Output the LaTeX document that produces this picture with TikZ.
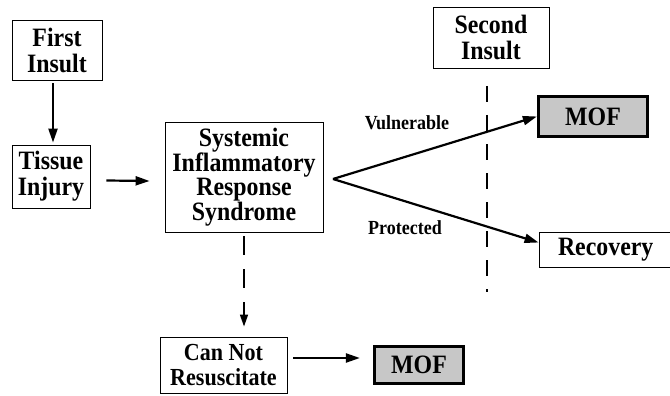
\documentclass[tikz,border=0pt]{standalone}
\usepackage{fontspec}
\setmainfont{Liberation Serif}
\newfontfamily\narrowserif[FakeStretch=0.9]{Liberation Serif}
\usetikzlibrary{arrows.meta}
\begin{document}
\begin{tikzpicture}[x=1pt,y=-1pt,
  box/.style={draw=black,line width=0.9pt,inner sep=0pt,align=center,
    font=\narrowserif\fontsize{26.5}{26}\selectfont\bfseries},
  smallbox/.style={box,font=\narrowserif\fontsize{24.5}{25}\selectfont\bfseries},
  mofbox/.style={box,line width=3.2pt,fill=black!22},
  lbl/.style={font=\narrowserif\fontsize{20}{22}\selectfont\bfseries},
  arr/.style={line width=2.2pt,-{Triangle[length=14pt,width=9pt]}},
  dasharr/.style={line width=1.6pt,dash pattern=on 19pt off 14pt,-{Triangle[length=12pt,width=8pt]}}]
\useasboundingbox (0,0) rectangle (670,396);

% boxes
\node[box,minimum width=90pt,minimum height=60pt] (first) at (57,50) {First\\Insult};
\node[box,minimum width=78pt,minimum height=63pt] (tissue) at (51,176.5) {Tissue\\Injury};
\node[box,font=\narrowserif\fontsize{26.5}{24.5}\selectfont\bfseries,minimum width=158pt,minimum height=110pt] (sirs) at (244,177) {Systemic\\Inflammatory\\Response\\Syndrome};
\node[smallbox,minimum width=127pt,minimum height=56pt] (cnr) at (223.5,365) {Can Not\\Resuscitate};
\node[mofbox,minimum width=89pt,minimum height=37pt] (mofb) at (419,365) {MOF};
\node[box,minimum width=116pt,minimum height=61pt] (second) at (491,37.5) {Second\\Insult};
\node[mofbox,minimum width=109pt,minimum height=40pt] (moft) at (593,116.5) {MOF};
\node[box,align=left,text width=140pt,minimum height=35pt] (recov) at (609,249.5) {\hspace*{19pt}Recovery};

% branch labels
\node[lbl] (vuln) at (407,123) {Vulnerable};
\node[lbl] (prot) at (405,228) {Protected};

% second-insult boundary
\coordinate (dtop) at (487,86);
\coordinate (dbot) at (487,292);
\draw[line width=1.6pt,dash pattern=on 16pt off 13pt] (dtop) -- (dbot);

% connectors
\coordinate (apex) at (333,179);
\draw[arr] ([shift={(-4pt,-3pt)}]first.south) -- ([shift={(2pt,2pt)}]tissue.north);
\draw[arr] ([shift={(16pt,-4pt)}]tissue.east) -- ([shift={(-15pt,-4pt)}]sirs.west);
\draw[arr] (apex) -- (moft.west);
\draw[arr] (apex) -- ([yshift=7pt]recov.west);
\draw[dasharr] ([yshift=-4pt]sirs.south) -- ([yshift=10pt]sirs.south |- cnr.north);
\draw[arr] ([shift={(6pt,7pt)}]cnr.east) -- ([shift={(-13pt,7pt)}]mofb.west);
\end{tikzpicture}
\end{document}
